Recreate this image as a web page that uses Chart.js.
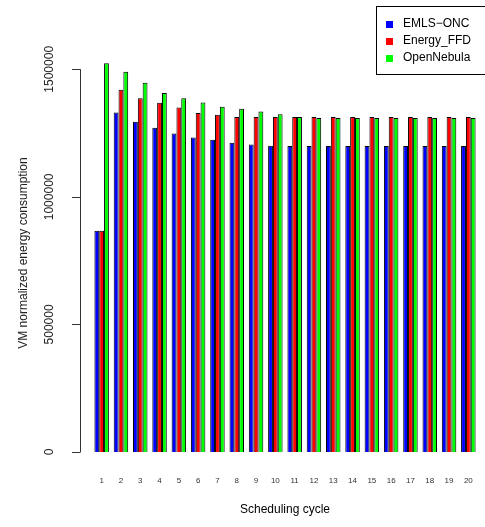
<!DOCTYPE html>
<html>
<head>
<meta charset="utf-8">
<script src="https://cdn.jsdelivr.net/npm/chart.js@4/dist/chart.umd.min.js"></script>
<style>
  body { margin: 0; background: #fff; }
  #wrap { width: 485px; height: 527px; }
</style>
</head>
<body>
<div id="wrap"><canvas id="chart" width="485" height="527"></canvas></div>
<script>
// Data
const cycles = ['1','2','3','4','5','6','7','8','9','10','11','12','13','14','15','16','17','18','19','20'];
const emlsOnc = [867000, 1331000, 1294000, 1271000, 1248000, 1233000, 1224000, 1212000, 1205000, 1200000,
                 1199000, 1199000, 1199000, 1199000, 1199000, 1199000, 1199000, 1199000, 1199000, 1199000];
const energyFfd = [867000, 1420000, 1387000, 1369000, 1350000, 1329000, 1322000, 1313000, 1313000, 1313000,
                   1313000, 1313000, 1313000, 1313000, 1313000, 1313000, 1313000, 1313000, 1313000, 1313000];
const openNebula = [1524000, 1490000, 1447000, 1407000, 1387000, 1370000, 1353000, 1345000, 1335000, 1324000,
                    1313000, 1309000, 1309000, 1309000, 1309000, 1309000, 1309000, 1309000, 1309000, 1309000];
const yTicks = [0, 500000, 1000000, 1500000];
const seriesNames = ['EMLS\u2212ONC', 'Energy_FFD', 'OpenNebula'];
const seriesColors = ['#0000ff', '#ff0000', '#00ff00'];

const FONT = 'Liberation Sans, Arial, Helvetica, sans-serif';

// R style y axis: offset line, rotated labels, title
const rAxis = {
    id: 'rAxis',
    afterDraw(chart) {
        const ctx = chart.ctx;
        const y = chart.scales.y;
        const area = chart.chartArea;
        const ax = area.left - 12;
        ctx.save();
        ctx.strokeStyle = '#333';
        ctx.lineWidth = 1;
        ctx.beginPath();
        ctx.moveTo(ax + 0.5, y.getPixelForValue(yTicks[0]));
        ctx.lineTo(ax + 0.5, y.getPixelForValue(yTicks[yTicks.length - 1]));
        yTicks.forEach(v => {
            const py = Math.round(y.getPixelForValue(v)) + 0.5;
            ctx.moveTo(ax + 0.5, py);
            ctx.lineTo(ax - 8, py);
        });
        ctx.stroke();

        ctx.fillStyle = '#222';
        ctx.font = '12px ' + FONT;
        ctx.textAlign = 'center';
        ctx.textBaseline = 'middle';
        yTicks.forEach(v => {
            ctx.save();
            ctx.translate(50, y.getPixelForValue(v));
            ctx.rotate(-Math.PI / 2);
            ctx.fillText(String(v), 0, 0);
            ctx.restore();
        });
        ctx.save();
        ctx.translate(24, (area.top + area.bottom) / 2);
        ctx.rotate(-Math.PI / 2);
        ctx.fillText('VM normalized energy consumption', 0, 0);
        ctx.restore();
        ctx.restore();
    }
};

// boxed legend in the top right corner
const rLegend = {
    id: 'rLegend',
    afterDraw(chart) {
        const ctx = chart.ctx;
        ctx.save();
        ctx.strokeStyle = '#000';
        ctx.lineWidth = 1;
        ctx.strokeRect(376.5, 6.5, 120, 68);
        ctx.font = '12px ' + FONT;
        ctx.textBaseline = 'middle';
        ctx.textAlign = 'left';
        chart.data.datasets.forEach((ds, i) => {
            const cy = 24 + i * 17;
            ctx.fillStyle = ds.backgroundColor;
            ctx.fillRect(386, cy - 3, 7, 7);
            ctx.fillStyle = '#000';
            ctx.fillText(ds.label, 403, cy);
        });
        ctx.restore();
    }
};

new Chart(document.getElementById('chart'), {
    type: 'bar',
    data: {
        labels: cycles,
        datasets: [emlsOnc, energyFfd, openNebula].map((vals, i) => ({
            label: seriesNames[i],
            data: vals,
            backgroundColor: seriesColors[i],
            borderColor: '#000',
            borderWidth: 1,
            barPercentage: 1,
            categoryPercentage: 0.75
        }))
    },
    options: {
        responsive: false,
        animation: false,
        devicePixelRatio: 1,
        layout: { padding: { left: 92, right: 7, top: 54, bottom: 10 } },
        plugins: { legend: { display: false }, tooltip: { enabled: false } },
        scales: {
            x: {
                // invisible tick marks only push the labels down
                grid: { display: true, drawOnChartArea: false, drawTicks: true, tickLength: 21, color: 'rgba(0,0,0,0)' },
                border: { display: false },
                ticks: { font: { size: 8, family: FONT }, color: '#333', padding: 3, maxRotation: 0, autoSkip: false },
                title: { display: true, text: 'Scheduling cycle', color: '#000', font: { size: 12, family: FONT }, padding: { top: 14, bottom: 0 } }
            },
            y: {
                display: false,
                min: 0,
                max: 1560000
            }
        }
    },
    plugins: [rAxis, rLegend]
});
</script>
</body>
</html>
